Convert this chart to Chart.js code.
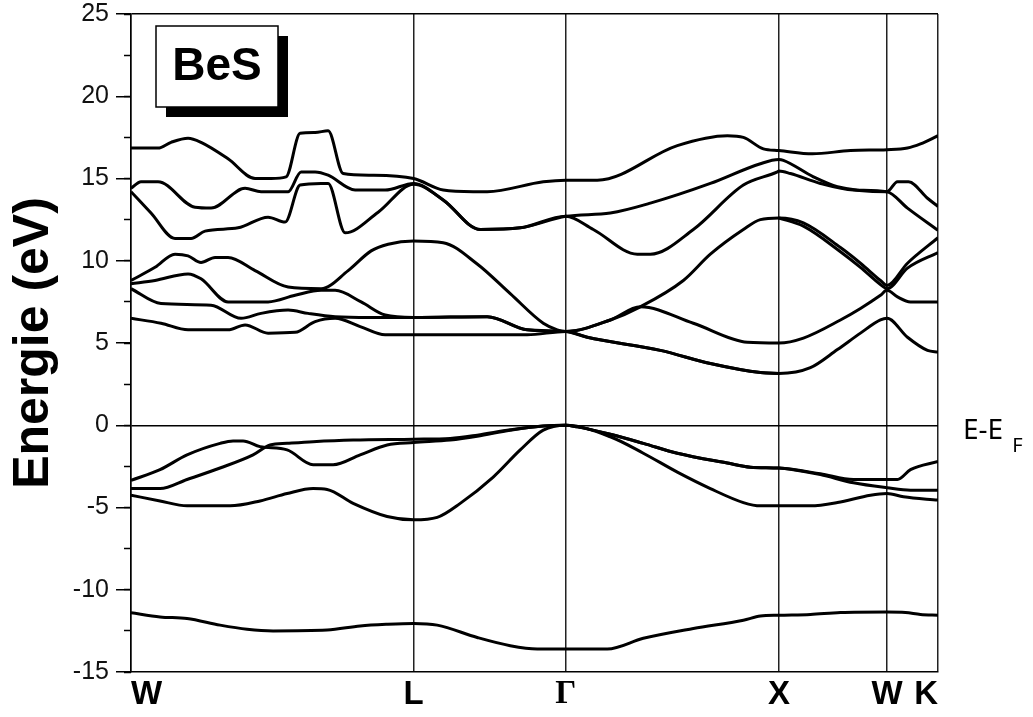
<!DOCTYPE html>
<html>
<head>
<meta charset="utf-8">
<script src="https://cdn.jsdelivr.net/npm/chart.js@4.4.0/dist/chart.umd.min.js"></script>
<style>
  body { margin: 0; background: #fff; }
  #wrap { width: 1033px; height: 717px; }
</style>
</head>
<body>
<div id="wrap"><canvas id="bands" width="1033" height="717"></canvas></div>
<script>
// high symmetry points along the k-path
const kLabels = ["W", "L", "Γ", "X", "W", "K"];
const kPoints = [0, 2.825, 4.345, 6.475, 7.555, 8.065];

const yMin = -15, yMax = 25, yStep = 5, yMinorStep = 2.5;

// bands: [k, E (eV)]
const bandV0 = [[0,-11.4],[0.29,-11.65],[0.56,-11.75],[0.89,-12.15],[1.16,-12.4],[1.42,-12.5],[1.96,-12.45],[2.29,-12.2],[2.56,-12.1],[2.825,-12.05],
  [3.06,-12.15],[3.46,-12.9],[3.79,-13.4],[4.06,-13.6],[4.345,-13.6],[4.76,-13.6],[5.12,-12.95],[5.62,-12.35],[6.12,-11.85],[6.29,-11.6],[6.475,-11.55],
  [6.79,-11.5],[7.09,-11.38],[7.555,-11.35],[7.74,-11.38],[7.89,-11.5],[8.065,-11.55]];

const bandV1 = [[0,-4.25],[0.29,-4.6],[0.56,-4.9],[0.99,-4.9],[1.29,-4.6],[1.56,-4.15],[1.82,-3.85],[1.96,-3.9],[2.22,-4.75],[2.56,-5.55],[2.825,-5.75],
  [3.06,-5.6],[3.29,-4.75],[3.62,-3.15],[3.89,-1.5],[4.12,-0.3],[4.345,0],[4.79,-0.7],[5.12,-1.7],[5.46,-2.85],[5.79,-3.85],[6.12,-4.7],[6.29,-4.9],[6.475,-4.9],
  [6.79,-4.9],[7.06,-4.7],[7.39,-4.25],[7.555,-4.15],[7.72,-4.35],[8.065,-4.55]];

const bandV2 = [[0,-3.35],[0.29,-2.7],[0.56,-1.8],[0.89,-1.1],[1.02,-0.95],[1.12,-0.95],[1.29,-1.3],[1.56,-1.5],[1.82,-2.4],[2.02,-2.4],[2.29,-1.8],[2.56,-1.2],[2.825,-1.05],
  [3.19,-0.9],[3.46,-0.67],[3.79,-0.3],[4.12,-0.05],[4.345,0],[4.46,-0.1],[4.79,-0.55],[5.12,-1.1],[5.46,-1.7],[5.96,-2.3],[6.19,-2.55],[6.475,-2.6],
  [6.62,-2.7],[6.89,-3.0],[7.22,-3.5],[7.555,-3.8],[7.79,-3.95],[8.065,-3.95]];

const bandV3 = [[0,-3.85],[0.29,-3.85],[0.56,-3.3],[0.89,-2.6],[1.22,-1.8],[1.39,-1.2],[1.56,-1.1],[1.82,-1.0],[2.22,-0.9],[2.825,-0.85],
  [3.19,-0.8],[3.46,-0.6],[3.79,-0.28],[4.12,-0.04],[4.345,0],[4.46,-0.1],[4.79,-0.55],[5.12,-1.1],[5.46,-1.7],[5.96,-2.3],[6.19,-2.55],[6.475,-2.6],
  [6.89,-2.95],[7.22,-3.3],[7.555,-3.3],[7.66,-3.3],[7.79,-2.7],[8.065,-2.2]];

const bandC1 = [[0,6.5],[0.3,6.2],[0.57,5.8],[0.97,5.8],[1.14,6.1],[1.37,5.6],[1.64,5.65],[1.84,6.3],[2.04,6.5],[2.29,6.0],[2.54,5.5],[2.825,5.5],
  [3.96,5.5],[4.345,5.7],[4.56,5.35],[5.29,4.55],[5.79,3.75],[6.29,3.2],[6.475,3.15],
  [6.79,3.5],[7.06,4.6],[7.29,5.6],[7.49,6.4],[7.555,6.5],[7.76,5.35],[7.96,4.55],[8.065,4.45]];

const bandC2 = [[0,8.3],[0.3,7.4],[0.8,7.3],[1.1,6.5],[1.3,6.8],[1.57,7.0],[1.77,6.8],[2.04,6.6],[2.39,6.55],[2.825,6.55],
  [3.56,6.6],[3.96,5.8],[4.345,5.7],[4.56,5.35],[5.29,4.55],[5.79,3.75],[6.29,3.2],[6.475,3.15]];

const bandC3 = [[0,8.6],[0.24,8.8],[0.57,9.2],[0.7,8.9],[0.97,7.5],[1.37,7.5],[1.64,7.9],[1.9,8.2],[2.04,8.2],[2.3,7.5],[2.54,6.7],[2.825,6.55],
  [3.56,6.6],[3.96,5.8],[4.345,5.7],[4.79,6.4],[5.09,7.2],[5.62,6.2],[6.16,5.05],[6.475,5.0],
  [6.72,5.3],[7.09,6.4],[7.29,7.1],[7.49,7.9],[7.555,8.2],[7.66,7.8],[7.79,7.5],[8.065,7.5]];

const bandC4 = [[0,8.8],[0.24,9.6],[0.44,10.4],[0.57,10.3],[0.7,9.9],[0.84,10.2],[0.97,10.2],[1.24,9.4],[1.57,8.4],[1.9,8.3],[2.17,9.4],[2.4,10.6],[2.57,11.0],[2.825,11.2],
  [3.12,11.1],[3.46,9.8],[3.79,8.0],[4.12,6.2],[4.26,5.8],[4.345,5.7],[4.79,6.4],[5.09,7.2],[5.52,8.8],[5.79,10.4],[6.12,11.9],[6.29,12.5],[6.475,12.6],
  [6.72,12.3],[7.09,10.8],[7.29,9.85],[7.49,8.8],[7.555,8.5],[7.76,9.85],[8.065,11.4]];

const bandC5 = [[6.475,12.6],[6.72,12.1],[7.09,10.55],[7.29,9.6],[7.49,8.55],[7.555,8.3],[7.76,9.55],[8.065,10.5]];

const bandC6 = [[0,14.2],[0.2,12.9],[0.44,11.35],[0.6,11.35],[0.74,11.8],[1.07,12.0],[1.37,12.65],[1.54,12.35],[1.69,14.6],[1.9,14.7],[1.97,14.7],[2.14,11.7],[2.47,12.95],[2.825,14.65],
  [3.12,13.7],[3.49,11.9],[3.89,12.0],[4.345,12.7],[4.62,11.9],[5.06,10.4],[5.19,10.4],[5.62,11.9],[6.12,14.6],[6.46,15.4],[6.475,15.45],
  [6.59,15.3],[6.89,14.7],[7.22,14.3],[7.555,14.2],[7.76,13.2],[8.065,11.85]];

const bandC7 = [[0,14.4],[0.1,14.8],[0.27,14.8],[0.64,13.25],[0.8,13.2],[1.14,14.4],[1.3,14.2],[1.57,14.2],[1.7,15.4],[1.84,15.4],[1.97,15.2],[2.24,14.3],[2.54,14.3],[2.825,14.7],
  [3.12,13.7],[3.49,11.9],[3.89,12.0],[4.345,12.7],[4.79,12.9],[5.19,13.5],[5.79,14.7],[6.29,15.9],[6.475,16.15],
  [6.52,16.1],[6.82,15.1],[7.06,14.5],[7.555,14.2],[7.66,14.8],[7.77,14.8],[7.96,13.8],[8.065,13.3]];

const bandC8 = [[0,16.85],[0.27,16.85],[0.4,17.2],[0.57,17.45],[0.7,17.2],[0.97,16.2],[1.24,15.0],[1.4,15.0],[1.55,15.1],[1.69,17.75],[1.84,17.8],[1.97,17.9],[2.12,15.3],[2.4,15.2],[2.825,15.0],
  [3.12,14.3],[3.42,14.2],[3.56,14.2],[4.12,14.8],[4.345,14.9],[4.66,14.9],[5.46,17.0],[5.96,17.6],[6.12,17.5],[6.32,16.8],[6.475,16.7],
  [6.81,16.5],[7.19,16.7],[7.555,16.75],[7.76,16.85],[7.89,17.1],[8.065,17.6]];

const allBands = [bandV0, bandV1, bandV2, bandV3, bandC1, bandC2, bandC3, bandC4, bandC5, bandC6, bandC7, bandC8];

const sans = "'Liberation Sans', Arial, sans-serif";

// the BeS box and the E-E_F label
const extraText = {
  id: "extraText",
  afterDraw(chart) {
    const ctx = chart.ctx;
    const a = chart.chartArea;
    const y = chart.scales.y;
    ctx.save();
    const bx = a.left + 25, by = a.top + 12, bw = 122, bh = 81;
    ctx.fillStyle = "#000";
    ctx.fillRect(bx + 10, by + 10, bw, bh);
    ctx.fillStyle = "#fff";
    ctx.fillRect(bx, by, bw, bh);
    ctx.strokeStyle = "#000";
    ctx.lineWidth = 1.5;
    ctx.strokeRect(bx, by, bw, bh);
    ctx.fillStyle = "#000";
    ctx.font = "bold 46px " + sans;
    ctx.textAlign = "center";
    ctx.textBaseline = "middle";
    ctx.fillText("BeS", bx + bw / 2, by + bh / 2 + 1);

    const y0 = y.getPixelForValue(0);
    ctx.textAlign = "left";
    ctx.textBaseline = "alphabetic";
    ctx.font = "28px 'Noto Sans', sans-serif";
    ctx.fillText("E-E", a.right + 25, y0 + 14);
    const w = ctx.measureText("E-E").width;
    ctx.font = "20px 'Noto Sans', sans-serif";
    ctx.fillText("F", a.right + 25 + w + 9, y0 + 27);
    ctx.restore();
  }
};

const ctx = document.getElementById("bands").getContext("2d");
new Chart(ctx, {
  type: "line",
  data: {
    datasets: allBands.map(b => ({
      data: b.map(p => ({ x: p[0], y: p[1] })),
      borderColor: "#000",
      borderWidth: 3,
      pointRadius: 0,
      fill: false,
      cubicInterpolationMode: "monotone"
    }))
  },
  options: {
    responsive: false,
    animation: false,
    layout: { padding: { left: 0, right: 95, top: 14, bottom: 0 } },
    plugins: { legend: { display: false }, tooltip: { enabled: false } },
    scales: {
      x: {
        type: "linear",
        min: kPoints[0],
        max: kPoints[kPoints.length - 1],
        afterBuildTicks: s => { s.ticks = kPoints.map(v => ({ value: v })); },
        afterFit: s => { s.height = 45; s.paddingLeft = 0; s.paddingRight = 0; },
        ticks: {
          autoSkip: false,
          maxRotation: 0,
          align: "inner",
          padding: 3,
          color: "#000",
          callback: (v, i) => kLabels[i],
          font: c => ({
            family: kLabels[c.index] === "Γ" ? "'Liberation Serif', serif" : sans,
            size: 33,
            weight: "bold"
          })
        },
        grid: { color: "#222", lineWidth: 1.5, drawTicks: false },
        border: { display: true, color: "#000", width: 1.5 }
      },
      y: {
        type: "linear",
        position: "left",
        weight: 1,
        min: yMin,
        max: yMax,
        afterFit: s => { s.width = 131; s.paddingTop = 0; s.paddingBottom = 0; },
        ticks: { stepSize: yStep, padding: 7, color: "#111", font: { family: sans, size: 25 } },
        grid: {
          color: c => (c.tick && (c.tick.value === 0 || c.tick.value === yMax)) ? "#000" : "rgba(0,0,0,0)",
          lineWidth: 1.5,
          tickLength: 15,
          tickColor: "#000",
          tickWidth: 1.5
        },
        border: { display: true, color: "#000", width: 1.5 },
        title: {
          display: true,
          text: "Energie (eV)",
          color: "#000",
          font: { family: sans, size: 50, weight: "bold" },
          padding: { top: 4, bottom: 0 }
        }
      },
      yMinor: {
        type: "linear",
        position: "left",
        weight: 0,
        min: yMin,
        max: yMax,
        afterFit: s => { s.width = 0; s.paddingTop = 0; s.paddingBottom = 0; },
        ticks: { stepSize: yMinorStep, display: false },
        grid: { drawOnChartArea: false, tickLength: 7, tickColor: "#000", tickWidth: 1.5 },
        border: { display: false }
      }
    }
  },
  plugins: [extraText]
});
</script>
</body>
</html>
